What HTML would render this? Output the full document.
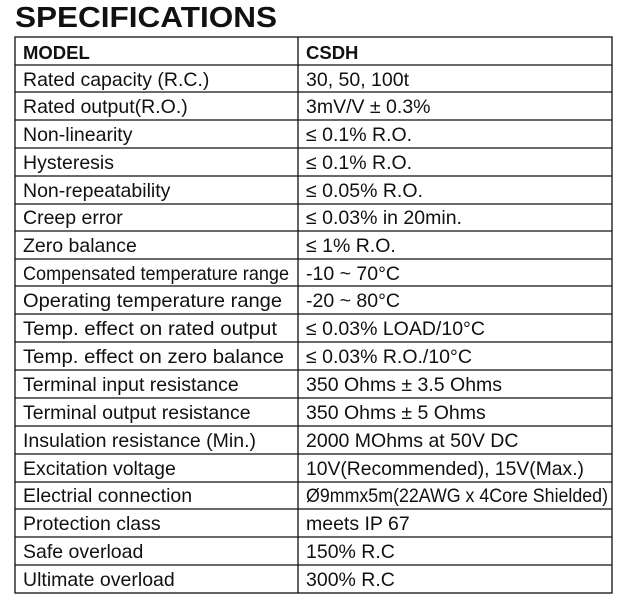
<!DOCTYPE html>
<html><head><meta charset="utf-8"><style>
html,body{margin:0;padding:0;background:#fff;width:620px;height:596px;overflow:hidden}
svg{display:block}
text{font-family:"Liberation Sans",Arial,sans-serif;fill:#111}
</style></head><body>
<svg width="620" height="596" viewBox="0 0 620 596" xmlns="http://www.w3.org/2000/svg">
<text x="15" y="27" font-size="29" font-weight="bold" textLength="262" lengthAdjust="spacingAndGlyphs">SPECIFICATIONS</text>
<g stroke="#111" stroke-width="1.3" fill="none">
<rect x="15" y="37" width="597" height="556"/>
<line x1="298" y1="37" x2="298" y2="593"/>
<line x1="15" y1="65" x2="612" y2="65"/>
<line x1="15" y1="92" x2="612" y2="92"/>
<line x1="15" y1="120" x2="612" y2="120"/>
<line x1="15" y1="148" x2="612" y2="148"/>
<line x1="15" y1="176" x2="612" y2="176"/>
<line x1="15" y1="204" x2="612" y2="204"/>
<line x1="15" y1="231" x2="612" y2="231"/>
<line x1="15" y1="259" x2="612" y2="259"/>
<line x1="15" y1="286" x2="612" y2="286"/>
<line x1="15" y1="314" x2="612" y2="314"/>
<line x1="15" y1="342" x2="612" y2="342"/>
<line x1="15" y1="370" x2="612" y2="370"/>
<line x1="15" y1="398" x2="612" y2="398"/>
<line x1="15" y1="426" x2="612" y2="426"/>
<line x1="15" y1="454" x2="612" y2="454"/>
<line x1="15" y1="482" x2="612" y2="482"/>
<line x1="15" y1="509" x2="612" y2="509"/>
<line x1="15" y1="537" x2="612" y2="537"/>
<line x1="15" y1="565" x2="612" y2="565"/>
</g>
<g font-size="19.5">
<text x="23" y="59" font-weight="bold" font-size="18.5">MODEL</text><text x="306" y="59" font-weight="bold" font-size="18.5">CSDH</text>
<text x="23" y="86">Rated capacity (R.C.)</text><text x="306" y="86">30, 50, 100t</text>
<text x="23" y="113">Rated output(R.O.)</text><text x="306" y="113">3mV/V ± 0.3%</text>
<text x="23" y="141">Non-linearity</text><text x="306" y="141">≤ 0.1% R.O.</text>
<text x="23" y="169">Hysteresis</text><text x="306" y="169">≤ 0.1% R.O.</text>
<text x="23" y="197">Non-repeatability</text><text x="306" y="197">≤ 0.05% R.O.</text>
<text x="23" y="224">Creep error</text><text x="306" y="224">≤ 0.03% in 20min.</text>
<text x="23" y="252">Zero balance</text><text x="306" y="252">≤ 1% R.O.</text>
<text x="23" y="280" textLength="266" lengthAdjust="spacingAndGlyphs">Compensated temperature range</text><text x="306" y="280">-10 ~ 70°C</text>
<text x="23" y="307" textLength="259" lengthAdjust="spacingAndGlyphs">Operating temperature range</text><text x="306" y="307">-20 ~ 80°C</text>
<text x="23" y="335" textLength="254" lengthAdjust="spacingAndGlyphs">Temp. effect on rated output</text><text x="306" y="335">≤ 0.03% LOAD/10°C</text>
<text x="23" y="363" textLength="261" lengthAdjust="spacingAndGlyphs">Temp. effect on zero balance</text><text x="306" y="363">≤ 0.03% R.O./10°C</text>
<text x="23" y="391">Terminal input resistance</text><text x="306" y="391">350 Ohms ± 3.5 Ohms</text>
<text x="23" y="419">Terminal output resistance</text><text x="306" y="419">350 Ohms ± 5 Ohms</text>
<text x="23" y="447">Insulation resistance (Min.)</text><text x="306" y="447">2000 MOhms at 50V DC</text>
<text x="23" y="475">Excitation voltage</text><text x="306" y="475" textLength="278" lengthAdjust="spacingAndGlyphs">10V(Recommended), 15V(Max.)</text>
<text x="23" y="502">Electrial connection</text><text x="306" y="502" textLength="302" lengthAdjust="spacingAndGlyphs">Ø9mmx5m(22AWG x 4Core Shielded)</text>
<text x="23" y="530">Protection class</text><text x="306" y="530">meets IP 67</text>
<text x="23" y="558">Safe overload</text><text x="306" y="558">150% R.C</text>
<text x="23" y="586">Ultimate overload</text><text x="306" y="586">300% R.C</text>
</g>
</svg>
</body></html>
